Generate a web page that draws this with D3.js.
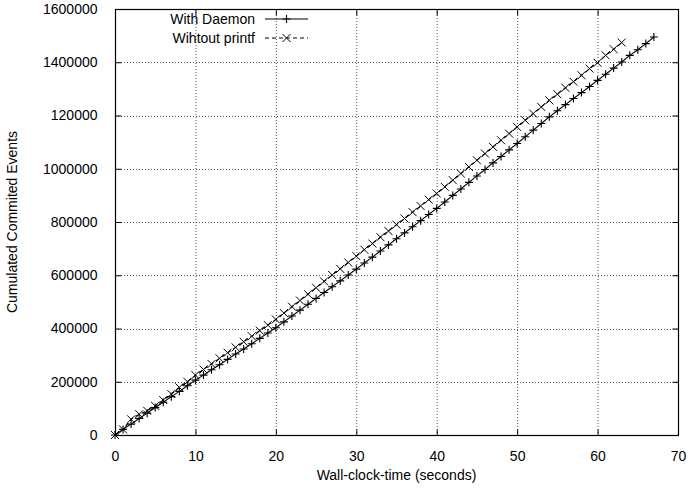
<!DOCTYPE html>
<html>
<head>
<meta charset="utf-8">
<script src="https://cdn.jsdelivr.net/npm/d3@7"></script>
<style>
  html, body { margin: 0; padding: 0; background: #fff; }
  svg text { font-family: "Liberation Sans", Arial, Helvetica, sans-serif; fill: #000; }
</style>
</head>
<body>
<svg id="chart" width="691" height="490"></svg>
<script>
// ---- data ----
const daemonTime = d3.range(0, 68); // seconds (one sample per second)
const daemonEvents = [
  0, 21000, 41000, 62000, 82000, 103000, 123000, 144000, 164000, 185000,
  206000, 225000, 245000, 264000, 284000, 304000, 323000, 343000, 363000, 383000,
  403000, 425000, 447000, 469000, 491000, 513000, 535000, 557000, 579000, 601000,
  623000, 646000, 668000, 691000, 714000, 737000, 759000, 782000, 805000, 828000,
  851000, 875000, 900000, 924000, 949000, 973000, 997000, 1022000, 1046000, 1071000,
  1095000, 1120000, 1145000, 1170000, 1195000, 1218000, 1241000, 1264000, 1286000, 1309000,
  1332000, 1355000, 1378000, 1401000, 1426000, 1447000, 1470000, 1495000
];
const printfTime = d3.range(0, 64);
const printfEvents = [
  0, 21000, 59000, 78000, 91000, 109000, 131000, 154000, 179000, 200000,
  225000, 246000, 267000, 288000, 309000, 329000, 350000, 371000, 392000, 413000,
  434000, 458000, 482000, 505000, 529000, 553000, 577000, 601000, 624000, 648000,
  672000, 696000, 719000, 743000, 766000, 790000, 813000, 837000, 860000, 884000,
  907000, 932000, 957000, 982000, 1007000, 1032000, 1057000, 1082000, 1107000, 1132000,
  1157000, 1182000, 1207000, 1232000, 1257000, 1280000, 1304000, 1327000, 1351000, 1376000,
  1398000, 1426000, 1449000, 1474000
];
const seriesNames = ["With Daemon", "Wihtout printf"];
const xTicks = [0, 10, 20, 30, 40, 50, 60, 70];
const yTicks = [0, 200000, 400000, 600000, 800000, 1000000, 1200000, 1400000, 1600000];
const yTickLabels = ["0", "200000", "400000", "600000", "800000", "1000000", "120000", "1400000", "1600000"];
const xLabel = "Wall-clock-time (seconds)";
const yLabel = "Cumulated Commited Events";

// ---- layout ----
const svg = d3.select("#chart");
const L = 115, R = 678, T = 9, B = 435;
const x = d3.scaleLinear().domain([0, 70]).range([L, R]);
const y = d3.scaleLinear().domain([0, 1600000]).range([B, T]);
const fs = 14;

// grid
const grid = svg.append("g").attr("stroke", "#555").attr("stroke-width", 1).attr("stroke-dasharray", "1,2");
xTicks.slice(1, -1).forEach(t => {
  grid.append("line").attr("x1", x(t) + 0.5).attr("x2", x(t) + 0.5).attr("y1", T).attr("y2", B);
});
yTicks.slice(1, -1).forEach(t => {
  grid.append("line").attr("x1", L).attr("x2", R).attr("y1", Math.round(y(t)) + 0.5).attr("y2", Math.round(y(t)) + 0.5);
});

// axes with inward ticks (mirrored)
const tickLen = 6;
const fmtY = (d, i) => yTickLabels[i];
const axL = svg.append("g").attr("transform", `translate(${L + 0.5},0)`)
  .call(d3.axisLeft(y).tickValues(yTicks).tickFormat(fmtY).tickSizeInner(-tickLen).tickSizeOuter(0).tickPadding(12 + tickLen));
const axR = svg.append("g").attr("transform", `translate(${R + 0.5},0)`)
  .call(d3.axisRight(y).tickValues(yTicks).tickFormat("").tickSizeInner(-tickLen).tickSizeOuter(0));
const axB = svg.append("g").attr("transform", `translate(0,${B + 0.5})`)
  .call(d3.axisBottom(x).tickValues(xTicks).tickFormat(d3.format("d")).tickSizeInner(-tickLen).tickSizeOuter(0).tickPadding(10 + tickLen));
const axT = svg.append("g").attr("transform", `translate(0,${T + 0.5})`)
  .call(d3.axisTop(x).tickValues(xTicks).tickFormat("").tickSizeInner(-tickLen).tickSizeOuter(0));
[axL, axR, axB, axT].forEach(a => {
  a.select(".domain").remove();
  a.selectAll("line").attr("stroke", "#000");
  a.selectAll("text").attr("font-size", fs).attr("font-family", "Liberation Sans, Arial, sans-serif");
});

// frame
svg.append("rect").attr("x", L + 0.5).attr("y", T + 0.5).attr("width", R - L).attr("height", B - T)
  .attr("fill", "none").attr("stroke", "#000").attr("stroke-width", 1.2);

// axis titles
svg.append("text").attr("x", (L + R) / 2).attr("y", 480).attr("text-anchor", "middle").attr("font-size", fs).text(xLabel);
svg.append("text").attr("transform", `translate(17,${(T + B) / 2}) rotate(-90)`).attr("text-anchor", "middle").attr("font-size", fs).text(yLabel);

// markers
const ms = 4;
function plus(g, cx, cy) {
  g.append("path").attr("d", `M${cx - ms},${cy}H${cx + ms}M${cx},${cy - ms}V${cy + ms}`).attr("stroke", "#000").attr("stroke-width", 1.1).attr("fill", "none");
}
function cross(g, cx, cy) {
  g.append("path").attr("d", `M${cx - ms},${cy - ms}L${cx + ms},${cy + ms}M${cx - ms},${cy + ms}L${cx + ms},${cy - ms}`).attr("stroke", "#000").attr("stroke-width", 1).attr("fill", "none");
}

const line = d3.line().x(d => x(d[0])).y(d => y(d[1]));
const dData = daemonTime.map((t, i) => [t, daemonEvents[i]]);
const pData = printfTime.map((t, i) => [t, printfEvents[i]]);

const plotG = svg.append("g");
plotG.append("path").datum(dData).attr("d", line).attr("fill", "none").attr("stroke", "#000").attr("stroke-width", 1.1);
plotG.append("path").datum(pData).attr("d", line).attr("fill", "none").attr("stroke", "#000").attr("stroke-width", 1.1).attr("stroke-dasharray", "4,3");
dData.forEach(d => plus(plotG, x(d[0]), y(d[1])));
pData.forEach(d => cross(plotG, x(d[0]), y(d[1])));

// legend
const leg = svg.append("g");
const legTextX = 255, legX1 = 265, legX2 = 308, legRows = [19, 38];
seriesNames.forEach((name, i) => {
  const yy = legRows[i];
  leg.append("text").attr("x", legTextX).attr("y", yy + 5).attr("text-anchor", "end").attr("font-size", fs).text(name);
  const ln = leg.append("line").attr("x1", legX1).attr("x2", legX2).attr("y1", yy).attr("y2", yy).attr("stroke", "#000").attr("stroke-width", 1);
  if (i === 1) ln.attr("stroke-dasharray", "4,3");
  if (i === 0) plus(leg, (legX1 + legX2) / 2, yy); else cross(leg, (legX1 + legX2) / 2, yy);
});
</script>
</body>
</html>
